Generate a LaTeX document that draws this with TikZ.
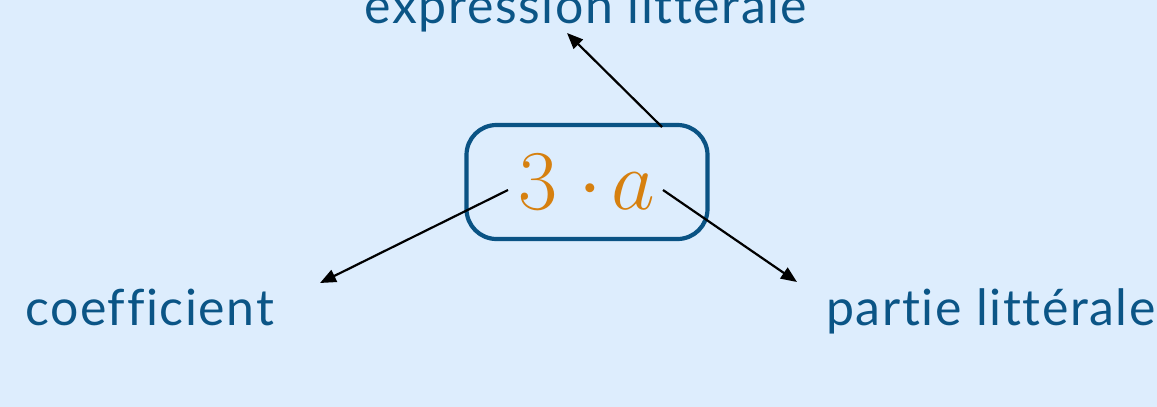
\documentclass[tikz,border=0pt]{standalone}
\usepackage{fontspec}
\setmainfont{Lato}[LetterSpace=3.2, Ligatures={NoCommon}, RawFeature={-liga;-dlig}]
\usetikzlibrary{arrows.meta}
\definecolor{bg}{HTML}{DDEDFD}
\definecolor{txt}{HTML}{0B5586}
\definecolor{boxc}{HTML}{0A5384}
\definecolor{num}{HTML}{D6800F}
\tikzset{
  lbl/.style={text=txt, font=\fontsize{50}{60}\selectfont, inner sep=0pt},
  conn/.style={line width=2.2pt, -{Triangle[length=16pt,width=13pt]}},
  exprbox/.style={draw=boxc, line width=4.2pt, rounded corners=30pt, minimum width=241pt, minimum height=114pt, inner sep=0pt}
}
\begin{document}
\begin{tikzpicture}[x=1pt,y=-1pt]
\fill[bg] (0,0) rectangle (1157,407);
\useasboundingbox (0,0) rectangle (1157,407);
\node[exprbox] (box) at (587,182) {};
\node[text=num, inner sep=0pt, font=\fontsize{24.88}{30}\selectfont] (math) at (587,182) {\scalebox{3.416}{$3\mkern4.5mu\mathord{\cdot}\mkern2mu a$}};
\node[lbl, anchor=base] (top) at (586,23) {expression littérale};
\node[lbl, anchor=base west] (coef) at (25,325) {coefficient};
\node[lbl, anchor=base west] (part) at (826,325) {partie littérale};
\coordinate (s1) at (662,127);
\coordinate (e1) at (567,33);
\coordinate (s2) at (508,190);
\coordinate (e2) at (320,283);
\coordinate (s3) at (663,190);
\coordinate (e3) at (797,282);
\draw[conn] (s1) -- (e1);
\draw[conn] (s2) -- (e2);
\draw[conn] (s3) -- (e3);
\end{tikzpicture}
\end{document}
